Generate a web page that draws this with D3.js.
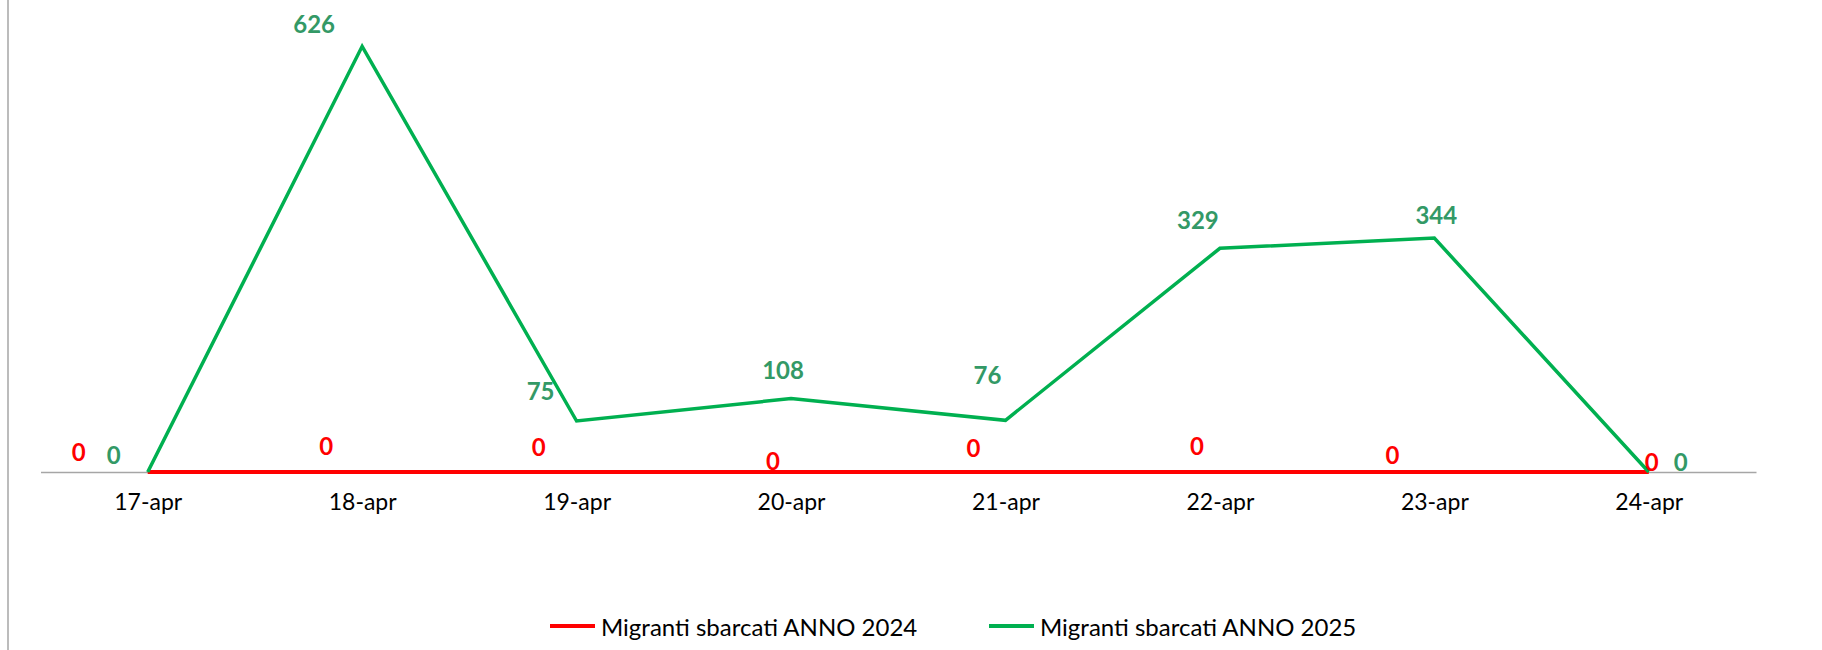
<!DOCTYPE html>
<html>
<head>
<meta charset="utf-8">
<script src="https://cdn.jsdelivr.net/npm/d3@7"></script>
<style>
  body { margin: 0; background: #fff; }
  svg text { font-family: Lato, "Noto Sans", sans-serif; }
</style>
</head>
<body>
<svg id="chart" width="1822" height="650"></svg>
<script>
// data
var days = ["17-apr", "18-apr", "19-apr", "20-apr", "21-apr", "22-apr", "23-apr", "24-apr"];
var sbarcati2024 = [0, 0, 0, 0, 0, 0, 0, 0];
var sbarcati2025 = [0, 626, 75, 108, 76, 329, 344, 0];
var seriesNames = ["Migranti sbarcati ANNO 2024", "Migranti sbarcati ANNO 2025"];

// label nudges (the labels were moved by hand in the original)
var offs2024 = [[-69, -21], [-36, -27], [-38, -26], [-18, -12], [-32, -25], [-23, -27], [-42, -18], [3, -11]];
var offs2025 = [[-34, -18], [-48, -23], [-36, -31], [-8, -29], [-18, -46], [-22, -29], [2, -24], [32, -11]];

var red = "#FF0000", green = "#00B050", greenLbl = "#339966";

var svg = d3.select("#chart");
var baseY = 472;

var x = d3.scalePoint().domain(days).range([40.5, 1756]).padding(0.5);
var y = d3.scaleLinear().domain([0, 700]).range([baseY, -4]);

// left border
svg.append("line")
    .attr("x1", 8).attr("x2", 8)
    .attr("y1", 0).attr("y2", 650)
    .style("stroke", "#a6a6a6").style("stroke-width", 1.5);

// x axis
var xAxis = svg.append("g")
    .attr("transform", `translate(0 ${baseY})`)
    .call(d3.axisBottom(x).tickSize(0).tickPadding(22));
xAxis.select(".domain").style("stroke", "#a6a6a6").style("stroke-width", 1.5);
xAxis.selectAll("text")
    .style("font-size", "23px")
    .style("fill", "#000")
    .attr("dy", "0.7em");

var line = d3.line()
    .x(function(d, i){ return x(days[i]) })
    .y(function(d){ return y(d) });

svg.append("path")
    .datum(sbarcati2024)
    .attr("d", line)
    .style("fill", "none")
    .style("stroke", red)
    .style("stroke-width", 4);

svg.append("path")
    .datum(sbarcati2025)
    .attr("d", line)
    .style("fill", "none")
    .style("stroke", green)
    .style("stroke-width", 3.5)
    .style("stroke-linejoin", "miter");

function labels(values, offs, color){
    svg.append("g")
        .selectAll("text")
        .data(values)
        .enter()
        .append("text")
        .text(function(d){ return d })
        .attr("x", function(d, i){ return x(days[i]) + offs[i][0] })
        .attr("y", function(d, i){ return y(d) + offs[i][1] })
        .attr("text-anchor", "middle")
        .attr("dominant-baseline", "central")
        .style("font-size", "24px")
        .style("font-weight", "bold")
        .style("fill", color);
}
labels(sbarcati2025, offs2025, greenLbl);
labels(sbarcati2024, offs2024, red);

// legend
var legendX = [550, 989];
var legend = svg.append("g")
    .selectAll("g")
    .data(seriesNames)
    .enter()
    .append("g")
    .attr("transform", function(d, i){ return `translate(${legendX[i]} 626)` });

legend.append("line")
    .attr("x1", 0).attr("x2", 45)
    .attr("y1", 0).attr("y2", 0)
    .style("stroke", function(d, i){ return i == 0 ? red : green })
    .style("stroke-width", 4);

legend.append("text")
    .text(function(d){ return d })
    .attr("x", 51)
    .attr("y", 0)
    .attr("dominant-baseline", "central")
    .style("font-size", "24px")
    .style("fill", "#000");
</script>
</body>
</html>
